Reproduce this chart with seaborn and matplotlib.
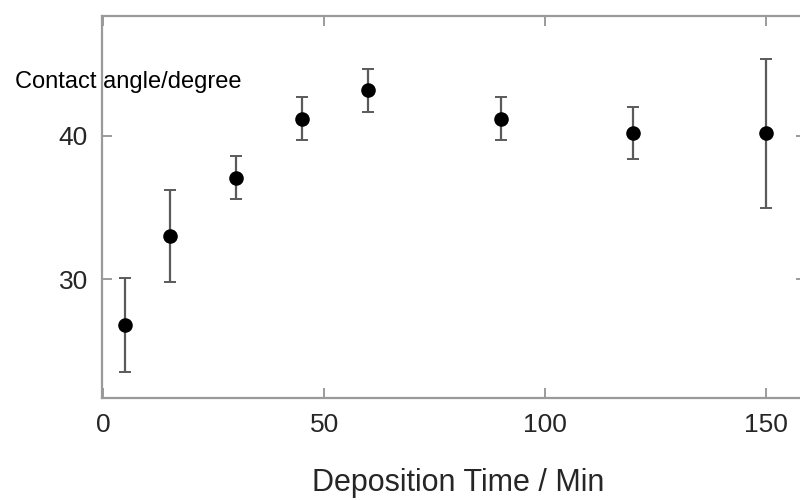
import matplotlib
matplotlib.use("Agg")
import matplotlib.pyplot as plt
import seaborn as sns
import pandas as pd

# Deposition time (min) and measured contact angle (degree) with spread
time_min = [5, 15, 30, 45, 60, 90, 120, 150]
angle_deg = [26.8, 33.0, 37.1, 41.2, 43.2, 41.2, 40.2, 40.2]
angle_err = [3.3, 3.2, 1.5, 1.5, 1.5, 1.5, 1.8, 5.2]

x_ticks = [0, 50, 100, 150]
y_ticks = [30, 40]

df = pd.DataFrame({"time": time_min, "angle": angle_deg, "err": angle_err})

sns.set_theme(style="ticks")
plt.rcParams["font.family"] = ["Liberation Sans", "DejaVu Sans"]

fig = plt.figure(figsize=(8, 5), dpi=100)
ax = fig.add_axes([0.1275, 0.205, 0.88, 0.763])

ax.errorbar(df["time"], df["angle"], yerr=df["err"], fmt="none",
            ecolor="#5a5a5a", elinewidth=1.6, capsize=4.5, capthick=1.4,
            zorder=2)
sns.scatterplot(data=df, x="time", y="angle", ax=ax, color="black",
                s=110, edgecolor="black", linewidth=0, zorder=3)

ax.set_xlim(-0.3, 159.1)
ax.set_ylim(21.75, 48.37)
ax.set_xticks(x_ticks)
ax.set_yticks(y_ticks)

for side in ["top", "bottom", "left", "right"]:
    ax.spines[side].set_visible(True)
    ax.spines[side].set_color("#9a9a9a")
    ax.spines[side].set_linewidth(1.6)

ax.tick_params(axis="both", which="major", direction="in", length=7,
               width=1.2, color="#8a8a8a", labelcolor="#262626",
               labelsize=19, top=True, right=True)
ax.tick_params(axis="x", pad=11)
ax.tick_params(axis="y", pad=10)

ax.set_xlabel("Deposition Time / Min", fontsize=22, color="#262626",
              va="baseline", ha="center")
ax.xaxis.set_label_coords(0.506, -0.245)

ax.set_ylabel("Contact angle/degree", fontsize=17, color="black",
              rotation=0, ha="left", va="baseline")
ax.yaxis.set_label_coords(-0.1234, 0.811)

fig.savefig("out.png", dpi=100)
